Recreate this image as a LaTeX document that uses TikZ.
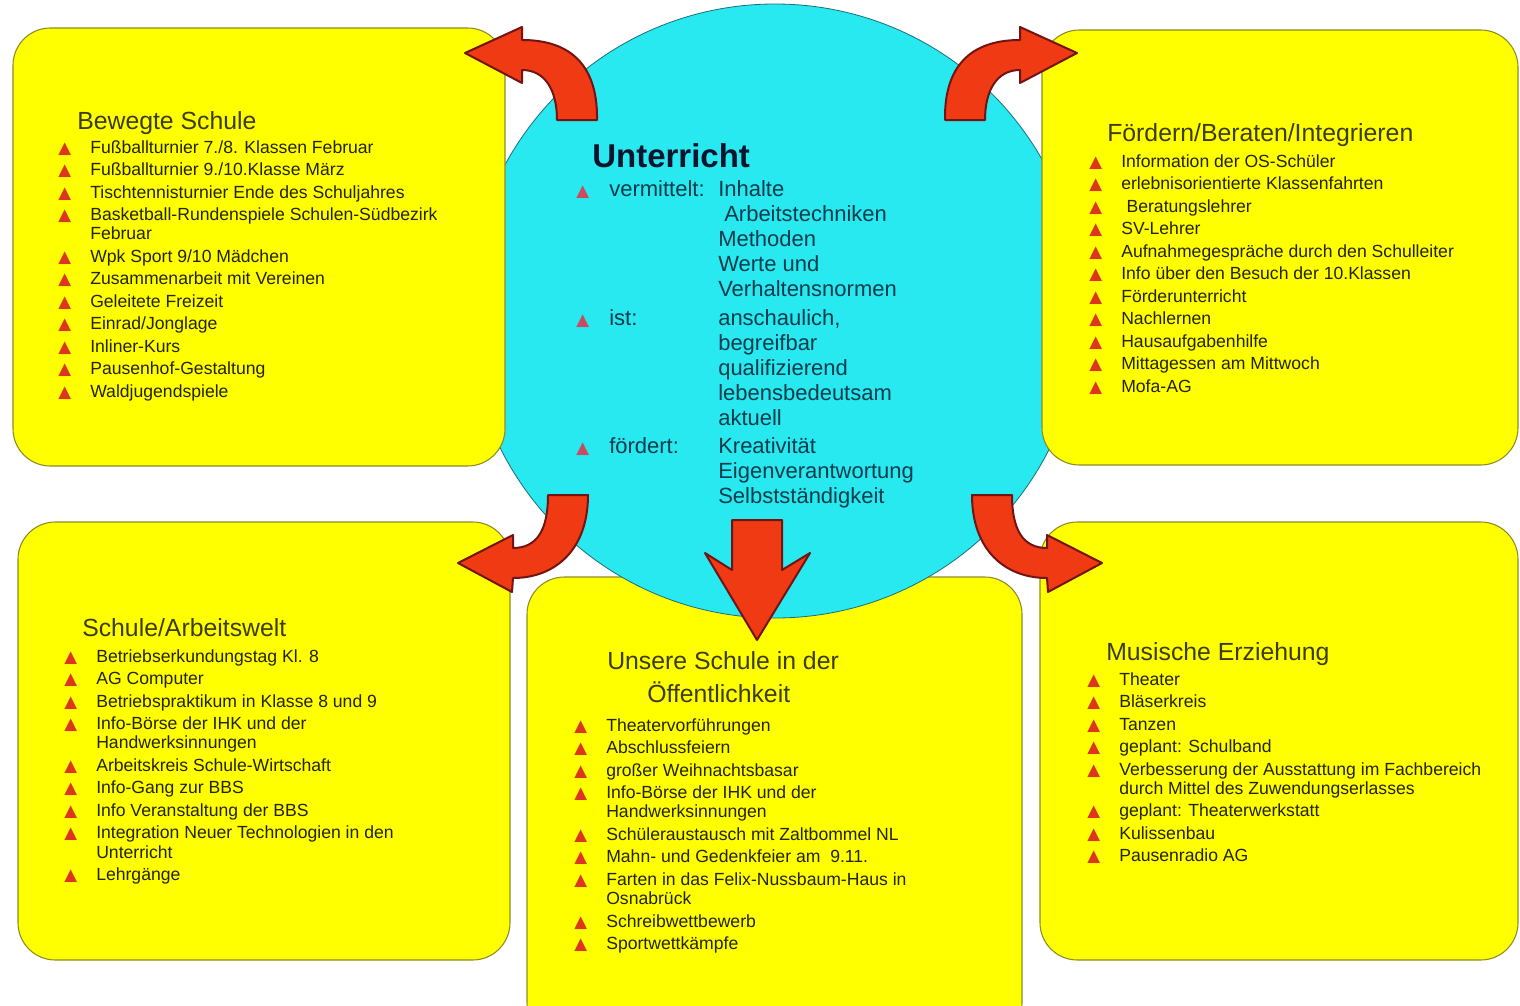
\documentclass[tikz,border=0pt]{standalone}
\usepackage{fontspec}
\setmainfont{Liberation Sans}
\newfontfamily\dejavu{DejaVu Sans}
\definecolor{boxyellow}{RGB}{255,255,0}
\definecolor{boxline}{RGB}{140,140,40}
\definecolor{circcyan}{RGB}{40,232,240}
\definecolor{circline}{RGB}{30,110,120}
\definecolor{arrred}{RGB}{240,58,20}
\definecolor{arrline}{RGB}{115,20,20}
\definecolor{bulred}{RGB}{220,55,30}
\definecolor{bulpink}{RGB}{200,75,95}
\definecolor{itemtxt}{RGB}{35,35,5}
\definecolor{titletxt}{RGB}{60,60,10}
\definecolor{ctxt}{RGB}{10,60,75}
\definecolor{uhead}{RGB}{10,20,45}
\newcommand\ybul{\textcolor{bulred}{\dejavu\fontsize{12.5}{12.5}\selectfont ▲}}
\newcommand\cbul{\textcolor{bulpink}{\dejavu\fontsize{12.5}{12.5}\selectfont ▲}}
\tikzset{
  box/.style={fill=boxyellow, draw=boxline, line width=0.8pt, rounded corners=28pt},
  circ/.style={fill=circcyan, draw=circline, line width=0.6pt},
  blockarrow/.style={fill=arrred, draw=arrline, line width=1.5pt, line join=round},
  boxtitle/.style={anchor=base west, inner sep=0pt, text=titletxt, font=\fontsize{18.6}{22}\selectfont},
  boxlist/.style={anchor=base west, inner sep=0pt, text=itemtxt, font=\fontsize{13.2}{16.9}\selectfont},
  ctitle/.style={anchor=base west, inner sep=0pt, text=uhead, font=\fontsize{24.75}{28}\selectfont\bfseries},
  clist/.style={anchor=base west, inner sep=0pt, text=ctxt, font=\fontsize{16.5}{18.75}\selectfont},
}
\begin{document}
\begin{tikzpicture}[x=0.75pt,y=-0.75pt]
\useasboundingbox (0,0) rectangle (1520,1006);
\fill[white] (0,0) rectangle (1520,1006);
% bottom centre box (under the circle)
\draw[box] (527,577) rectangle (1022,1040);
% circle
\draw[circ] (775,311) circle[radius=307];
% other boxes
\draw[box] (13,28) rectangle (505,466);
\draw[box] (1042,30) rectangle (1518,465);
\draw[box] (18,522) rectangle (510,960);
\draw[box] (1040,522) rectangle (1518,960);
% block arrows
\path[blockarrow] (557,120) -- (597,120) .. controls (598,60) and (565,40) .. (522,40)
  -- (522,27) -- (465,53) -- (522,83) -- (522,70)
  .. controls (545,70) and (557,90) .. (557,120) -- cycle;
\path[blockarrow] (985,120) -- (945,120) .. controls (944,60) and (977,40) .. (1020,40)
  -- (1020,27) -- (1077,53) -- (1020,83) -- (1020,70)
  .. controls (997,70) and (985,90) .. (985,120) -- cycle;
\path[blockarrow] (548,495) -- (588,495) .. controls (588,550) and (555,578) .. (513,578)
  -- (512,592) -- (458,563) -- (513,535) -- (513,548)
  .. controls (537,548) and (548,530) .. (548,495) -- cycle;
\path[blockarrow] (1012,495) -- (972,495) .. controls (972,550) and (1005,578) .. (1047,578)
  -- (1048,592) -- (1102,563) -- (1047,535) -- (1047,548)
  .. controls (1023,548) and (1012,530) .. (1012,495) -- cycle;
\path[blockarrow] (732,520) -- (782,520) -- (782,570) -- (810,553) -- (757,640)
  -- (705,553) -- (732,570) -- cycle;
% centre text
\node[ctitle] (unt) at (592,167) {Unterricht};
\node[clist] (ulist) at (576,196) {\begin{tabular}[t]{@{}p{24.75pt}@{}p{81.75pt}@{}l@{}}
\cbul & vermittelt: & Inhalte\\
 & & \hspace{4.5pt}Arbeitstechniken\\
 & & Methoden\\
 & & Werte und\\
 & & Verhaltensnormen\\[3pt]
\cbul & ist: & anschaulich,\\
 & & begreifbar\\
 & & qualifizierend\\
 & & lebensbedeutsam\\
 & & aktuell\\[2.5pt]
\cbul & fördert: & Kreativität\\
 & & Eigenverantwortung\\
 & & Selbstständigkeit
\end{tabular}};
% top left
\node[boxtitle] (tlt) at (77,129) {Bewegte Schule};
\node[boxlist] (tll) at (58,153) {\begin{tabular}[t]{@{}p{24pt}@{}l@{}}
\ybul & Fußballturnier 7./8. Klassen Februar\\
\ybul & Fußballturnier 9./10.Klasse März\\
\ybul & Tischtennisturnier Ende des Schuljahres\\
\ybul & Basketball-Rundenspiele Schulen-Südbezirk\\[-2.6pt]
 & Februar\\
\ybul & Wpk Sport 9/10 Mädchen\\
\ybul & Zusammenarbeit mit Vereinen\\
\ybul & Geleitete Freizeit\\
\ybul & Einrad/Jonglage\\
\ybul & Inliner-Kurs\\
\ybul & Pausenhof-Gestaltung\\
\ybul & Waldjugendspiele
\end{tabular}};
% top right
\node[boxtitle] (trt) at (1107,141) {Fördern/Beraten/Integrieren};
\node[boxlist] (trl) at (1089,167) {\begin{tabular}[t]{@{}p{24pt}@{}l@{}}
\ybul & Information der OS-Schüler\\
\ybul & erlebnisorientierte Klassenfahrten\\
\ybul & \hspace{4pt}Beratungslehrer\\
\ybul & SV-Lehrer\\
\ybul & Aufnahmegespräche durch den Schulleiter\\
\ybul & Info über den Besuch der 10.Klassen\\
\ybul & Förderunterricht\\
\ybul & Nachlernen\\
\ybul & Hausaufgabenhilfe\\
\ybul & Mittagessen am Mittwoch\\
\ybul & Mofa-AG
\end{tabular}};
% bottom left
\node[boxtitle] (blt) at (82,636) {Schule/Arbeitswelt};
\node[boxlist] (bll) at (64,662) {\begin{tabular}[t]{@{}p{24pt}@{}l@{}}
\ybul & Betriebserkundungstag Kl. 8\\
\ybul & AG Computer\\
\ybul & Betriebspraktikum in Klasse 8 und 9\\
\ybul & Info-Börse der IHK und der\\[-2.5pt]
 & Handwerksinnungen\\
\ybul & Arbeitskreis Schule-Wirtschaft\\
\ybul & Info-Gang zur BBS\\
\ybul & Info Veranstaltung der BBS\\
\ybul & Integration Neuer Technologien in den\\[-2.5pt]
 & Unterricht\\
\ybul & Lehrgänge
\end{tabular}};
% bottom centre
\node[boxtitle] (bct1) at (607,669) {Unsere Schule in der};
\node[boxtitle] (bct2) at (647,702) {Öffentlichkeit};
\node[boxlist] (bcl) at (574,731) {\begin{tabular}[t]{@{}p{24pt}@{}l@{}}
\ybul & Theatervorführungen\\
\ybul & Abschlussfeiern\\
\ybul & großer Weihnachtsbasar\\
\ybul & Info-Börse der IHK und der\\[-2.5pt]
 & Handwerksinnungen\\
\ybul & Schüleraustausch mit Zaltbommel NL\\
\ybul & Mahn- und Gedenkfeier am~~9.11.\\
\ybul & Farten in das Felix-Nussbaum-Haus in\\[-2.5pt]
 & Osnabrück\\
\ybul & Schreibwettbewerb\\
\ybul & Sportwettkämpfe
\end{tabular}};
% bottom right
\node[boxtitle] (brt) at (1106,660) {Musische Erziehung};
\node[boxlist] (brl) at (1087,685) {\begin{tabular}[t]{@{}p{24pt}@{}l@{}}
\ybul & Theater\\
\ybul & Bläserkreis\\
\ybul & Tanzen\\
\ybul & geplant: Schulband\\
\ybul & Verbesserung der Ausstattung im Fachbereich\\[-2.5pt]
 & durch Mittel des Zuwendungserlasses\\
\ybul & geplant: Theaterwerkstatt\\
\ybul & Kulissenbau\\
\ybul & Pausenradio AG
\end{tabular}};
\end{tikzpicture}
\end{document}
